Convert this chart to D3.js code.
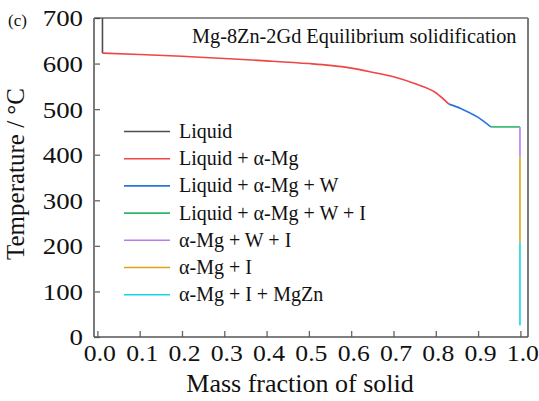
<!DOCTYPE html>
<html>
<head>
<meta charset="utf-8">
<script src="https://cdn.jsdelivr.net/npm/d3@7"></script>
<style>
  html, body { margin: 0; padding: 0; background: #fff; }
  svg text { font-family: "Liberation Serif", "Times New Roman", serif; fill: #111; }
</style>
</head>
<body>
<svg id="chart" width="539" height="401"></svg>
<script>
// Phase regions along the equilibrium solidification path of Mg-8Zn-2Gd
const phaseNames = [
  "Liquid",
  "Liquid + α-Mg",
  "Liquid + α-Mg + W",
  "Liquid + α-Mg + W + I",
  "α-Mg + W + I",
  "α-Mg + I",
  "α-Mg + I + MgZn"
];
const phaseColors = ["#4d4d4d", "#f04545", "#2b74e0", "#2fb56a", "#b77df0", "#dba514", "#16d6e4"];

// [mass fraction of solid, temperature °C] for each phase region
const liquidPts = [[0.012, 700], [0.012, 623]];
const liquidMgPts = [[0.012, 623], [0.1, 620], [0.2, 616], [0.3, 611], [0.4, 606], [0.5, 600],
  [0.55, 596], [0.6, 590], [0.65, 581], [0.7, 571], [0.75, 556], [0.8, 536], [0.831, 511]];
const liquidMgWPts = [[0.831, 511], [0.86, 501], [0.88, 492], [0.9, 482], [0.915, 472], [0.93, 461]];
const liquidMgWIPts = [[0.93, 461], [0.999, 461]];
const mgWIPts = [[0.999, 461], [0.999, 394]];
const mgIPts = [[0.999, 394], [0.999, 208]];
const mgIMgZnPts = [[0.999, 208], [0.999, 25]];
const seriesPts = [liquidPts, liquidMgPts, liquidMgWPts, liquidMgWIPts, mgWIPts, mgIPts, mgIMgZnPts];

const xTicks = [0, 0.1, 0.2, 0.3, 0.4, 0.5, 0.6, 0.7, 0.8, 0.9, 1.0];
const yTicks = [0, 100, 200, 300, 400, 500, 600, 700];

const svg = d3.select("#chart");
const plotL = 94, plotR = 528, plotT = 18, plotB = 337;
const serif = '"Liberation Serif", "Times New Roman", serif';

const x = d3.scaleLinear().domain([-0.008, 1.018]).range([plotL, plotR]);
const y = d3.scaleLinear().domain([0, 700]).range([plotB, plotT]);

// axes with inward ticks
const xAxis = d3.axisBottom(x).tickValues(xTicks).tickSizeInner(-6).tickSizeOuter(0)
  .tickFormat(d3.format(".1f"));
const yAxis = d3.axisLeft(y).tickValues(yTicks).tickSizeInner(-6).tickSizeOuter(0)
  .tickFormat(d3.format("d"));

const gx = svg.append("g").attr("transform", `translate(0,${plotB})`).call(xAxis);
const gy = svg.append("g").attr("transform", `translate(${plotL},0)`).call(yAxis);
[gx, gy].forEach(g => {
  g.attr("font-family", null).attr("font-size", null);
  g.select(".domain").remove();
  g.selectAll(".tick line").attr("stroke", "#666").attr("stroke-width", 1.3);
  g.selectAll(".tick text").style("font-family", serif).style("font-size", "24px").attr("fill", "#111");
});
gx.selectAll(".tick text").attr("y", 0).attr("dy", null)
  .attr("transform", "translate(2,24) scale(1.07,1)");
gy.selectAll(".tick text").attr("x", 0).attr("dy", "0.33em")
  .attr("transform", "translate(-11,0) scale(1.12,1)");

// frame
svg.append("line").attr("x1", plotL).attr("x2", plotR).attr("y1", plotT).attr("y2", plotT)
  .attr("stroke", "#222").attr("stroke-width", 1.2);
svg.append("line").attr("x1", plotL).attr("x2", plotL).attr("y1", plotT).attr("y2", plotB)
  .attr("stroke", "#7a7a7a").attr("stroke-width", 2);
svg.append("line").attr("x1", plotR).attr("x2", plotR).attr("y1", plotT).attr("y2", plotB)
  .attr("stroke", "#7a7a7a").attr("stroke-width", 2);
svg.append("line").attr("x1", plotL).attr("x2", plotR).attr("y1", plotB).attr("y2", plotB)
  .attr("stroke", "#555").attr("stroke-width", 1.6);

// solidification path
const line = d3.line().x(d => x(d[0])).y(d => y(d[1])).curve(d3.curveMonotoneX);
svg.append("g").selectAll("path").data(seriesPts).join("path")
  .attr("d", line)
  .attr("fill", "none")
  .attr("stroke", (d, i) => phaseColors[i])
  .attr("stroke-width", 1.6);

// legend
const legend = svg.append("g").selectAll("g").data(phaseNames).join("g")
  .attr("transform", (d, i) => `translate(124,${131.5 + i * 27.2})`);
legend.append("line").attr("x1", 0).attr("x2", 46).attr("y1", 0).attr("y2", 0)
  .attr("stroke", (d, i) => phaseColors[i]).attr("stroke-width", 1.6);
legend.append("text").attr("x", 55).attr("y", 6.5).attr("font-size", 20).text(d => d);

// titles
svg.append("text").attr("x", 192).attr("y", 43).attr("font-size", 20.3)
  .text("Mg-8Zn-2Gd Equilibrium solidification");
svg.append("text").attr("x", 8).attr("y", 26).attr("font-size", 17).text("(c)");
svg.append("text").attr("x", 300).attr("y", 392).attr("text-anchor", "middle").attr("font-size", 26)
  .text("Mass fraction of solid");
svg.append("text").attr("transform", "translate(24,174) rotate(-90)").attr("text-anchor", "middle")
  .attr("font-size", 25).text("Temperature / °C");
</script>
</body>
</html>
